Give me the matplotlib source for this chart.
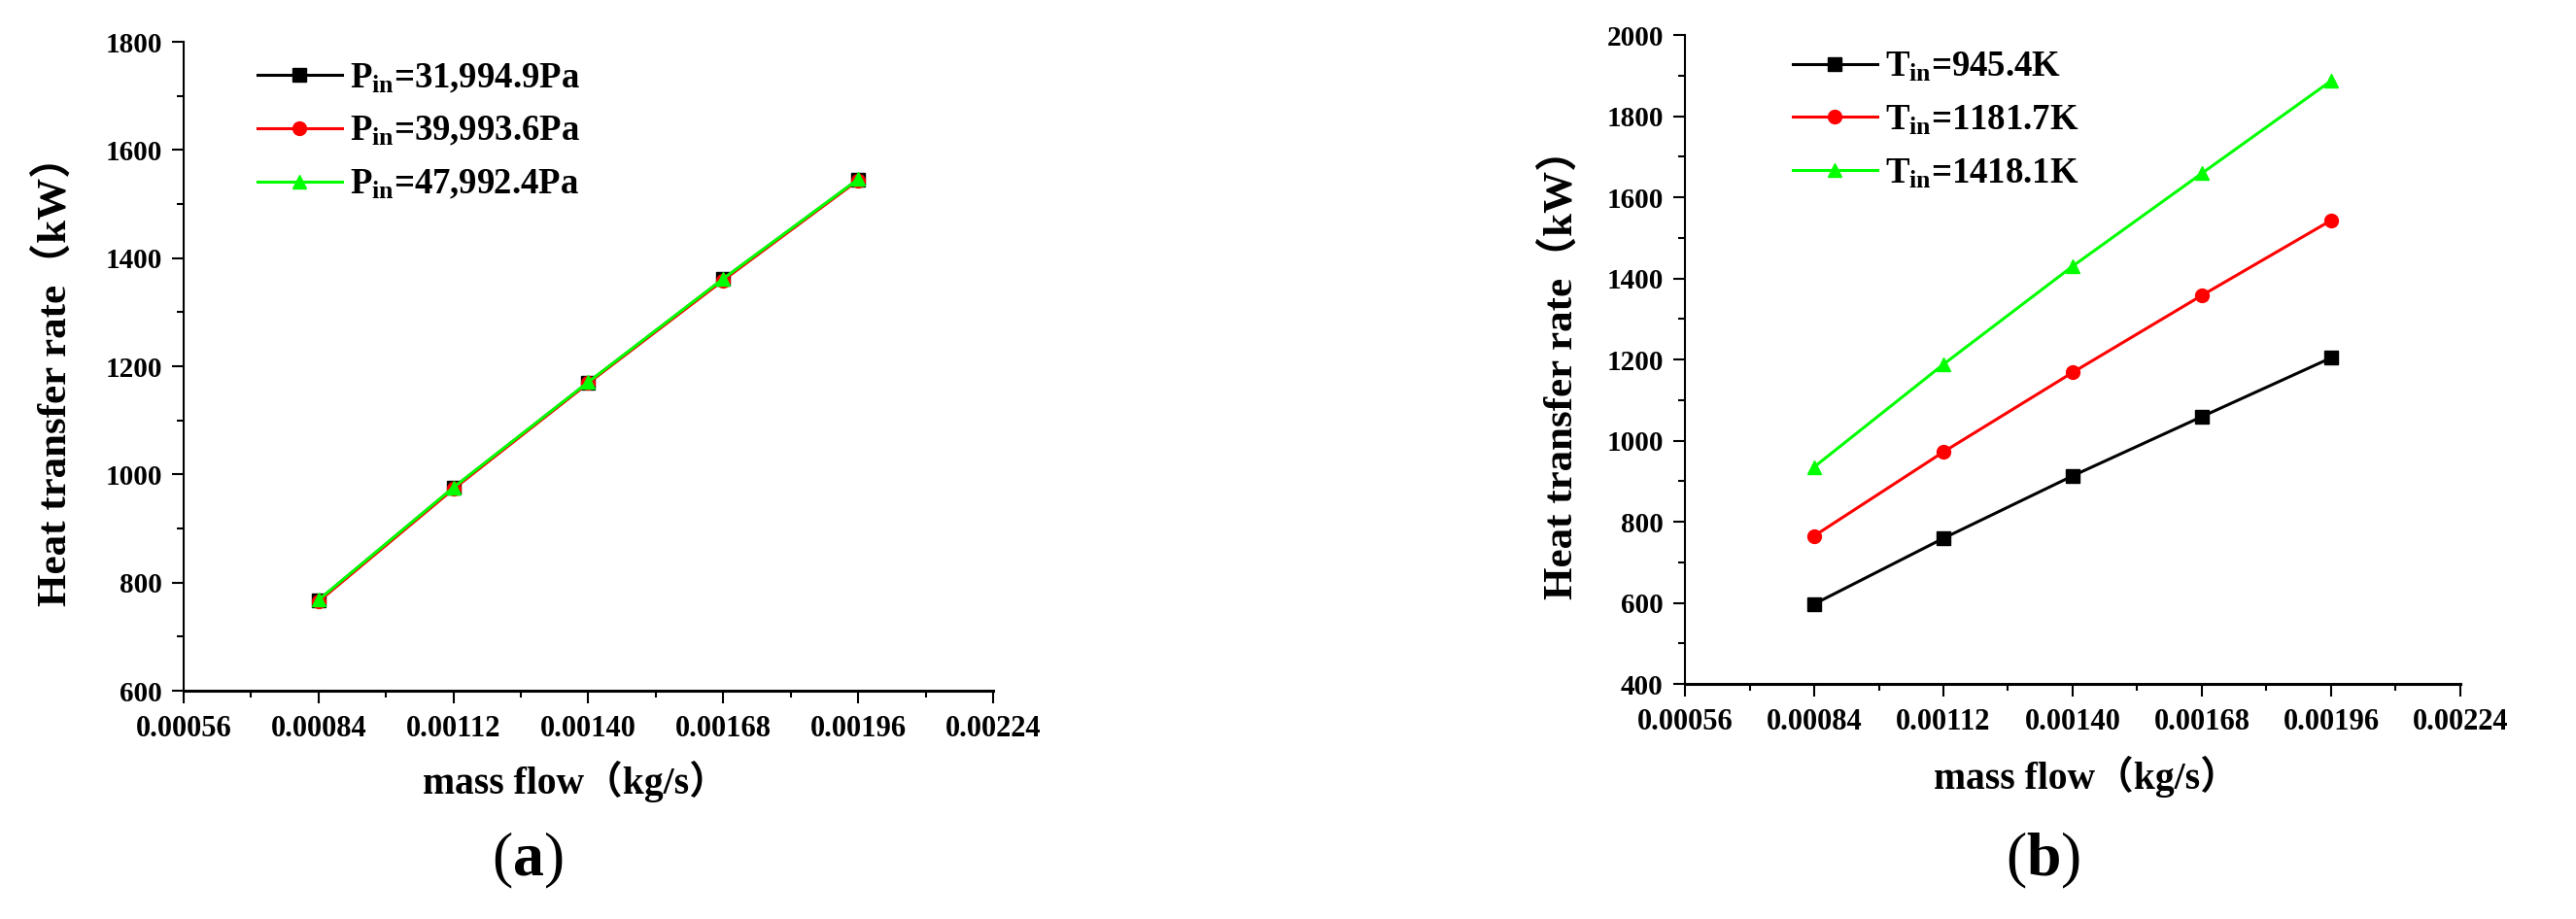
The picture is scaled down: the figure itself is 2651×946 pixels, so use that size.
import matplotlib
matplotlib.use("Agg")
import matplotlib.pyplot as plt
from matplotlib.ticker import MultipleLocator, FormatStrFormatter

plt.rcParams["font.family"] = ["Liberation Serif", "Noto Sans CJK SC"]
plt.rcParams["font.weight"] = "bold"
plt.rcParams["mathtext.fontset"] = "custom"
plt.rcParams["mathtext.rm"] = "Liberation Serif:bold"
plt.rcParams["mathtext.bf"] = "Liberation Serif:bold"
plt.rcParams["mathtext.it"] = "Liberation Serif:bold"

# данные
mass_flow = [0.00084, 0.00112, 0.00140, 0.00168, 0.00196]

# (a) разные давления на входе
q_p1 = [767, 975, 1170, 1361, 1545]
q_p2 = [765, 973, 1169, 1359, 1544]
q_p3 = [768, 976, 1171, 1362, 1546]
labels_a = ["P$_{in}$=31,994.9Pa", "P$_{in}$=39,993.6Pa", "P$_{in}$=47,992.4Pa"]

# (b) разные температуры на входе
q_t1 = [597, 759, 913, 1059, 1204]
q_t2 = [765, 972, 1168, 1358, 1543]
q_t3 = [935, 1188, 1430, 1659, 1887]
labels_b = ["T$_{in}$=945.4K", "T$_{in}$=1181.7K", "T$_{in}$=1418.1K"]

colors = ["black", "#FF0000", "#00FF00"]
markers = ["s", "o", "^"]

fig = plt.figure(figsize=(26.51, 9.46), dpi=100)
ax_a = fig.add_axes([0.0713, 0.2484, 0.3142, 0.7061])
ax_b = fig.add_axes([0.6541, 0.2558, 0.3010, 0.7061])


def style_axes(ax, ylim):
    ax.spines["top"].set_visible(False)
    ax.spines["right"].set_visible(False)
    ax.spines["left"].set_linewidth(1.5)
    ax.spines["bottom"].set_linewidth(2.2)
    ax.set_xlim(0.00056, 0.00224)
    ax.set_ylim(ylim)
    ax.xaxis.set_major_locator(MultipleLocator(0.00028))
    ax.xaxis.set_minor_locator(MultipleLocator(0.00014))
    ax.xaxis.set_major_formatter(FormatStrFormatter("%.5f"))
    ax.yaxis.set_major_locator(MultipleLocator(200))
    ax.yaxis.set_minor_locator(MultipleLocator(100))
    ax.tick_params(which="major", direction="out", length=9, width=1.5)
    ax.tick_params(which="minor", direction="out", length=5, width=1.5)
    ax.tick_params(axis="x", which="major", labelsize=22, pad=9)
    ax.tick_params(axis="y", which="major", labelsize=21, pad=7)
    ax.set_ylabel("Heat transfer rate（kW）", fontsize=31, fontweight="bold")
    ax.yaxis.set_label_coords(-0.135, 0.492)
    ax.set_xlabel("mass flow（kg/s）", fontsize=28.5, fontweight="bold")


def add_legend(ax, x0, y0):
    ax.legend(loc="upper left", bbox_to_anchor=(x0, y0), frameon=False,
              fontsize=26.5, borderpad=0, borderaxespad=0, handlelength=2.36,
              handletextpad=0.22, labelspacing=0.54)


for y, c, m, lab in zip([q_p1, q_p2, q_p3], colors, markers, labels_a):
    ax_a.plot(mass_flow, y, color=c, marker=m, markersize=10, lw=2.2, label=lab)
style_axes(ax_a, (600, 1800))
ax_a.xaxis.set_label_coords(0.484, -0.108)
add_legend(ax_a, 0.091, 0.97)

for y, c, m, lab in zip([q_t1, q_t2, q_t3], colors, markers, labels_b):
    ax_b.plot(mass_flow, y, color=c, marker=m, markersize=10, lw=2.2, label=lab)
style_axes(ax_b, (400, 2000))
ax_b.xaxis.set_label_coords(0.517, -0.111)
add_legend(ax_b, 0.139, 0.977)

fig.text(0.2046, 0.064, r"($\mathbf{a}$)", fontsize=46, fontweight="normal",
         ha="center", va="center")
fig.text(0.793, 0.064, r"($\mathbf{b}$)", fontsize=46, fontweight="normal",
         ha="center", va="center")

fig.savefig("out.png", dpi=100)
